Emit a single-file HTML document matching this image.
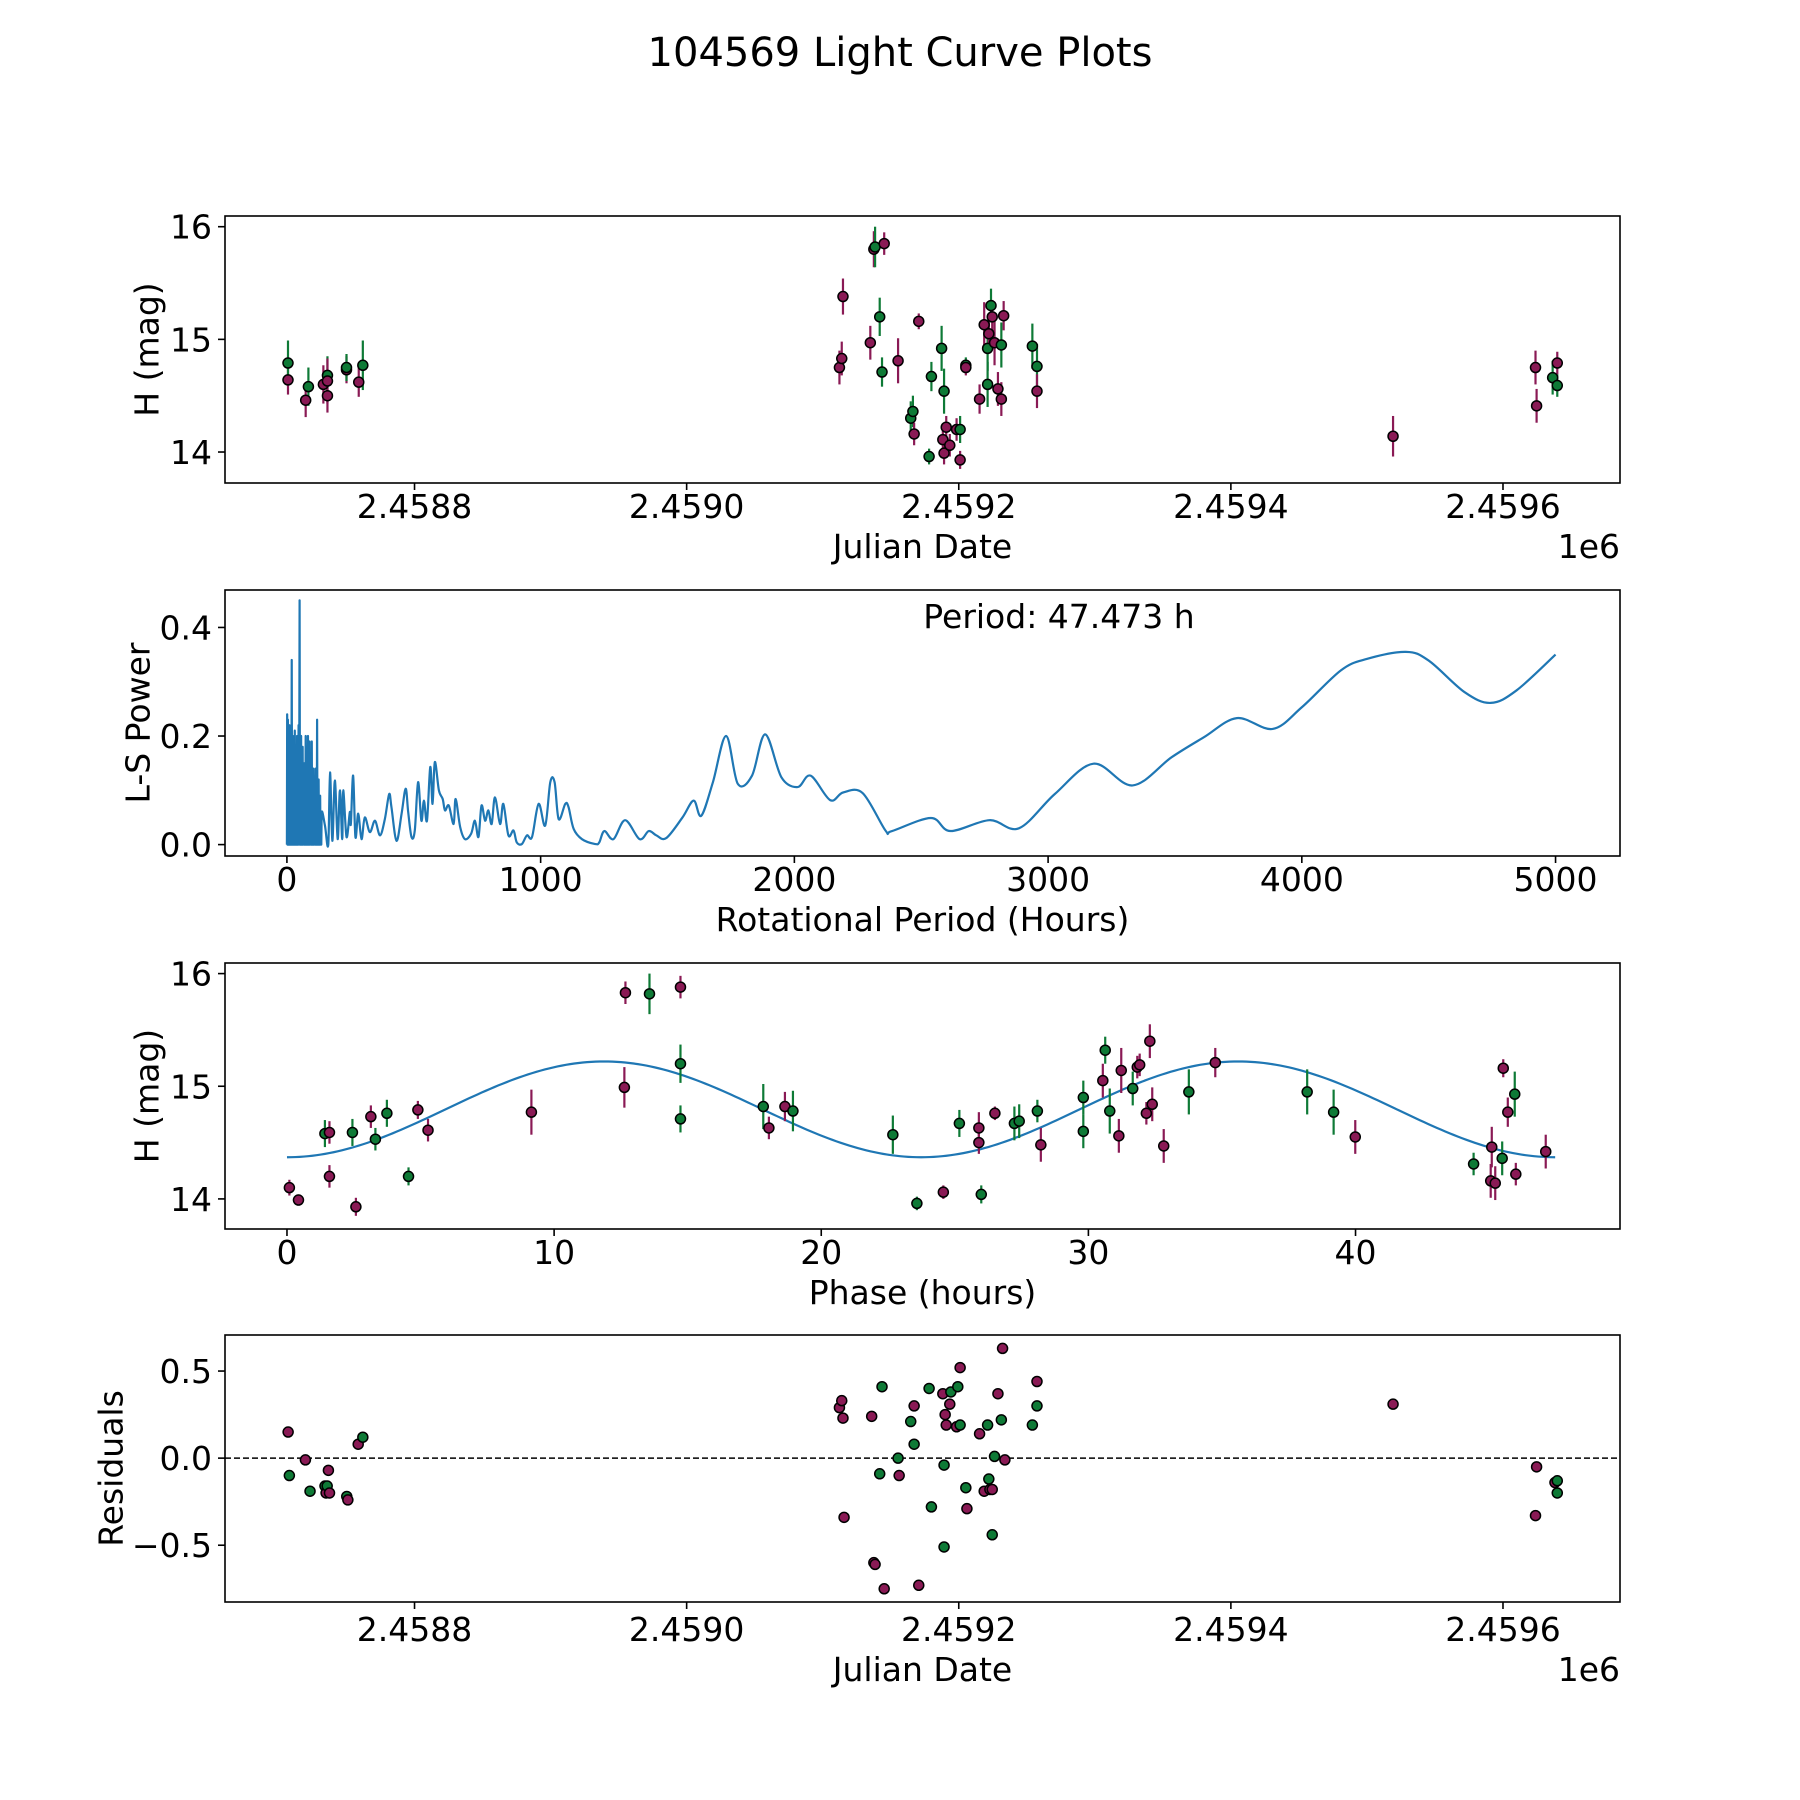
<!DOCTYPE html>
<html><head><meta charset="utf-8"><title>104569 Light Curve Plots</title>
<style>
html,body{margin:0;padding:0;background:#fff;}
svg{display:block;font-family:"DejaVu Sans","Liberation Sans",sans-serif;}
</style></head>
<body>
<svg id="fig" width="1800" height="1800" viewBox="0 0 1800 1800" xmlns="http://www.w3.org/2000/svg">
<rect width="1800" height="1800" fill="#fff"/>
<text x="900" y="66" font-size="40" text-anchor="middle">104569 Light Curve Plots</text>
</svg>
<script>
// ---------- Light curve data ----------
const lcJD = [2458707,2458707,2458720,2458722,2458733,2458736,2458736,2458736,2458750,2458750,2458759,2458762,
2459112.3,2459114,2459114.9,2459135,2459137.6,2459138.5,2459141.9,2459143.6,2459145.2,2459155.4,2459164.7,2459166.3,2459167.2,2459170.6,2459178.2,2459179.9,2459187.4,2459188.3,2459189.2,2459189.2,2459190.8,2459193.4,2459198.4,2459201,2459201,2459205.2,2459205.2,2459215.3,2459218.7,2459221.2,2459221.2,2459222.1,2459223.7,2459224.6,2459226.3,2459228.8,2459231.3,2459231.3,2459233,2459254.1,2459257.5,2459257.5,
2459519.2,2459623.9,2459624.7,2459636.5,2459639.9,2459639.9];
const lcMag = [14.64,14.79,14.46,14.58,14.6,14.68,14.63,14.50,14.73,14.75,14.62,14.77,
14.75,14.83,15.38,14.97,15.8,15.82,15.2,14.71,15.85,14.81,14.3,14.36,14.16,15.16,13.96,14.67,14.92,14.11,14.54,13.99,14.22,14.06,14.2,14.2,13.93,14.77,14.75,14.47,15.13,14.92,14.6,15.05,15.3,15.2,14.97,14.56,14.47,14.95,15.21,14.94,14.76,14.54,
14.14,14.75,14.41,14.66,14.79,14.59];
const lcErr = [0.13,0.2,0.15,0.17,0.17,0.17,0.2,0.15,0.12,0.12,0.13,0.22,
0.15,0.15,0.16,0.15,0.16,0.18,0.17,0.13,0.1,0.2,0.15,0.14,0.1,0.07,0.07,0.13,0.2,0.13,0.2,0.1,0.1,0.1,0.1,0.12,0.08,0.07,0.07,0.13,0.2,0.2,0.2,0.15,0.15,0.15,0.2,0.15,0.15,0.2,0.13,0.2,0.2,0.15,
0.18,0.15,0.15,0.15,0.1,0.1];
const lcBand = ['p','g','p','g','p','g','p','p','p','g','p','g',
'p','p','p','p','p','g','g','g','p','p','g','g','p','p','g','g','g','p','g','p','p','p','p','g','p','g','p','p','p','g','g','p','g','p','p','p','p','g','p','g','g','p',
'p','p','p','g','p','g'];

// ---------- Periodogram data ----------
const lsPeriod = [0,1,2.5,4,5.5,7,8.5,10,11.5,13,14.5,16,17.5,19,20.5,22,23.5,25,26.5,28,29.5,31,32.5,34,35.5,37,38.5,40,41.5,43,44.5,46,48,50,51.5,53,54.5,56,57.5,59,60.5,62,63.5,65,66.5,68,69.5,71,72.5,74,75.5,77,78.5,80,81.5,83,84.5,86,87.5,89,90.5,92,93.5,95,96.5,98,99.5,101,102.5,104,105.5,107,108.5,110,111.5,113,114.5,116,117.5,119,120.5,122,123.5,125,126.5,128,129.5,131,132.5,134,135.5,137,
150,163,170,179,189,200,209,218,222,235,248,252,261,270,281,294,307,327,347,367,386,403,412,432,452,468,478,491,504,517,530,540,552,565,574,583,599,614,623,638,657,665,683,702,726,741,755,767,781,794,807,820,840,853,873,893,906,926,946,966,992,1018,1038,1055,1071,1097,1110,1130,1163,1215,
1231,1251,1287,1333,1390,1426,1456,1495,1559,1603,1633,1679,1731,1777,1833,1885,1949,2013,2064,2141,2192,2269,2359,2385,2538,2615,2769,2885,3026,3179,3333,3487,3615,3744,3885,4000,4154,4256,4410,4500,4641,4744,4846,5000];
const lsPower = [0,0.24,0,0.23,0,0.21,0,0.22,0,0.2,0,0.15,0,0.34,0,0.2,0,0.1,0,0.2,0,0.21,0,0.15,0,0.12,0,0.2,0,0.1,0,0.22,0,0.45,0,0.15,0,0.2,0,0.09,0,0.18,0,0.05,0,0.15,0,0.11,0,0.2,0,0.06,0,0.15,0,0.2,0,0.09,0,0.19,0,0.05,0,0.13,0,0.19,0,0.07,0,0.14,0,0.11,0,0.05,0,0.14,0,0.09,0,0.23,0,0.1,0,0.12,0,0.07,0,0.09,0,0.04,0,0.06,
0.035,0,0.133,0.007,0.118,0.01,0.1,0.01,0.1,0.014,0.06,0.038,0.127,0.014,0.057,0.01,0.05,0.023,0.044,0.017,0.047,0.093,0.069,0.007,0.057,0.103,0.06,0.014,0.026,0.115,0.044,0.081,0.044,0.143,0.075,0.152,0.1,0.084,0.063,0.072,0.038,0.084,0.032,0.01,0.02,0.044,0.014,0.072,0.044,0.063,0.038,0.087,0.038,0.075,0.017,0.026,0.004,0.001,0.017,0.014,0.075,0.035,0.115,0.115,0.047,0.075,0.069,0.029,0.01,0.001,
0.004,0.025,0.01,0.045,0.01,0.025,0.017,0.012,0.05,0.081,0.053,0.115,0.2,0.112,0.127,0.203,0.124,0.106,0.127,0.082,0.096,0.095,0.026,0.025,0.049,0.025,0.045,0.03,0.093,0.149,0.109,0.161,0.198,0.233,0.213,0.253,0.321,0.342,0.355,0.339,0.281,0.261,0.284,0.35];
const lsDenseEnd = [137];

// ---------- Phased data ----------
const phPhase = [0.09,0.43,1.42,1.59,1.59,2.45,2.58,3.14,3.31,3.74,4.55,4.9,5.28,9.15,12.63,12.67,13.57,14.73,14.73,14.73,17.83,18.04,18.64,18.94,22.68,23.58,24.57,25.17,25.9,25.9,25.99,26.5,27.23,27.41,28.09,28.22,29.81,29.81,30.54,30.63,30.8,31.14,31.23,31.66,31.83,31.92,32.17,32.3,32.39,32.82,33.76,34.75,38.19,39.18,39.99,44.42,45.1,45.06,45.23,45.49,45.53,45.7,45.96,46.0,47.12];
const phMag = [14.1,13.99,14.58,14.59,14.2,14.59,13.93,14.73,14.53,14.76,14.2,14.79,14.61,14.77,14.99,15.83,15.82,15.2,14.71,15.88,14.82,14.63,14.82,14.78,14.57,13.96,14.06,14.67,14.63,14.5,14.04,14.76,14.67,14.69,14.78,14.48,14.9,14.6,15.05,15.32,14.78,14.56,15.14,14.98,15.17,15.19,14.76,15.4,14.84,14.47,14.95,15.21,14.95,14.77,14.55,14.31,14.46,14.16,14.14,14.36,15.16,14.77,14.93,14.22,14.42];
const phErr = [0.07,0.05,0.12,0.1,0.1,0.12,0.08,0.1,0.1,0.12,0.08,0.08,0.1,0.2,0.18,0.1,0.18,0.17,0.12,0.1,0.2,0.1,0.13,0.18,0.17,0.06,0.06,0.12,0.14,0.1,0.08,0.06,0.15,0.15,0.1,0.15,0.15,0.15,0.15,0.12,0.2,0.15,0.2,0.15,0.1,0.1,0.1,0.15,0.15,0.15,0.2,0.13,0.2,0.2,0.15,0.1,0.18,0.15,0.15,0.15,0.08,0.13,0.2,0.1,0.15];
const phBand = ['p','p','g','p','p','g','p','p','g','g','g','p','p','p','p','p','g','g','g','p','g','p','p','g','g','g','p','g','p','p','g','p','g','g','g','p','g','g','p','g','g','p','p','g','p','p','p','p','p','p','g','p','g','g','p','g','p','p','p','g','p','p','g','p','p'];
const modelMean = [14.795];
const modelAmp = [0.425];
const modelHalfPeriod = [23.74];
const modelSpan = [0, 47.473];

// ---------- Residuals ----------
const resJD = [2458707.1,2458708,2458719.8,2458723.2,2458734.2,2458735,2458735.8,2458736.7,2458737.5,2458750.2,2458751,2458758.6,2458762,
2459112.3,2459114,2459114.9,2459115.7,2459136,2459137.6,2459138.5,2459141.9,2459143.6,2459145.2,2459155.4,2459156.2,2459164.7,2459167.2,2459167.2,2459170.6,2459178.2,2459179.9,2459188.3,2459189.2,2459189.2,2459190,2459190.8,2459193.4,2459194.2,2459198.4,2459199.3,2459201,2459201,2459205.2,2459206,2459215.3,2459218.7,2459221.2,2459222.1,2459222.9,2459224.6,2459224.6,2459226.3,2459228.8,2459231.3,2459232.2,2459233.9,2459254.1,2459257.5,2459257.5,
2459519.2,2459623.9,2459624.7,2459638.2,2459639.9,2459639.9];
const resVal = [0.15,-0.1,-0.01,-0.19,-0.16,-0.2,-0.16,-0.07,-0.2,-0.22,-0.24,0.08,0.12,
0.29,0.33,0.23,-0.34,0.24,-0.6,-0.61,-0.09,0.41,-0.75,0.0,-0.1,0.21,0.08,0.3,-0.73,0.4,-0.28,0.37,-0.04,-0.51,0.25,0.19,0.31,0.38,0.18,0.41,0.52,0.19,-0.17,-0.29,0.14,-0.19,0.19,-0.12,-0.18,-0.18,-0.44,0.01,0.37,0.22,0.63,-0.01,0.19,0.3,0.44,
0.31,-0.33,-0.05,-0.14,-0.13,-0.2];
const resBand = ['p','g','p','g','g','p','g','p','p','g','p','p','g',
'p','p','p','p','p','p','p','g','g','p','g','p','g','g','p','p','g','g','p','g','g','p','p','p','g','p','g','p','g','g','p','p','p','g','g','p','p','g','g','p','g','p','p','g','g','p',
'p','p','p','p','g','g'];

const jdTicks = [2458800,2459000,2459200,2459400,2459600];
const jdTickLabels = ['2.4588','2.4590','2.4592','2.4594','2.4596'];
const magTicks = [14,15,16];
const lsXTicks = [0,1000,2000,3000,4000,5000];
const lsYTicks = [0,0.2,0.4];
const lsYTickLabels = ['0.0','0.2','0.4'];
const phXTicks = [0,10,20,30,40];
const resTicks = [-0.5,0,0.5];
const resTickLabels = ['\u22120.5','0.0','0.5'];

const NS = 'http://www.w3.org/2000/svg';
const svg = document.getElementById('fig');
const COL = {p:'#8a1a55', g:'#0e7a36'};
const FS = 33;

function mk(tag, attrs, parent) {
  const e = document.createElementNS(NS, tag);
  for (const k in attrs) e.setAttribute(k, attrs[k]);
  (parent || svg).appendChild(e);
  return e;
}
function scale(d0, d1, r0, r1) { return v => r0 + (v - d0) / (d1 - d0) * (r1 - r0); }

function makeAxes(name, box, xd, yd) {
  const g = mk('g', {});
  
  
  const clipId = name + '-clip';
  const cp = mk('clipPath', {id: clipId}, g);
  mk('rect', {x: box.l, y: box.t, width: box.r - box.l, height: box.b - box.t}, cp);
  const plot = mk('g', {'clip-path': 'url(#' + clipId + ')'}, g);
  
  
  return {g, plot, box, x: scale(xd[0], xd[1], box.l, box.r), y: scale(yd[0], yd[1], box.b, box.t)};
}
function frame(ax) {
  const b = ax.box;
  const f = mk('rect', {x: b.l, y: b.t, width: b.r - b.l, height: b.b - b.t, fill: 'none', stroke: '#000', 'stroke-width': 1.6}, ax.g);
  
  
}
function xTicks(ax, ticks, labels, labelY) {
  ticks.forEach((t, i) => {
    const X = ax.x(t);
    const tk = mk('line', {x1: X, x2: X, y1: ax.box.b, y2: ax.box.b + 7, stroke: '#000', 'stroke-width': 1.6}, ax.g);
    
    
    const tx = mk('text', {x: X, y: labelY, 'font-size': FS, 'text-anchor': 'middle'}, ax.g);
    tx.textContent = labels[i];
    
    
  });
}
function yTicks(ax, ticks, labels) {
  ticks.forEach((t, i) => {
    const Y = ax.y(t);
    const tk = mk('line', {x1: ax.box.l - 7, x2: ax.box.l, y1: Y, y2: Y, stroke: '#000', 'stroke-width': 1.6}, ax.g);
    
    
    const tx = mk('text', {x: ax.box.l - 13, y: Y + 12, 'font-size': FS, 'text-anchor': 'end'}, ax.g);
    tx.textContent = labels[i];
    
    
  });
}
function xLabel(ax, text, y) {
  const t = mk('text', {x: (ax.box.l + ax.box.r) / 2, y: y, 'font-size': FS, 'text-anchor': 'middle'}, ax.g);
  t.textContent = text;
  
  
}
function yLabel(ax, text, x) {
  const cy = (ax.box.t + ax.box.b) / 2;
  const t = mk('text', {x: x, y: cy, 'font-size': FS, 'text-anchor': 'middle', transform: 'rotate(-90 ' + x + ' ' + cy + ')', 'dominant-baseline': 'central'}, ax.g);
  t.textContent = text;
  
  
}
function offsetLabel(ax, y) {
  const t = mk('text', {x: ax.box.r, y: y, 'font-size': FS, 'text-anchor': 'end'}, ax.g);
  t.textContent = '1e6';
  
  
}
function errPoints(ax, xs, ys, es, bands) {
  xs.forEach((v, i) => {
    if (!es) return;
    const X = ax.x(v);
    const eb = mk('line', {x1: X, x2: X, y1: ax.y(ys[i] - es[i]), y2: ax.y(ys[i] + es[i]), stroke: COL[bands[i]], 'stroke-width': 2.2}, ax.plot);
    
    
  });
  xs.forEach((v, i) => {
    const c = mk('circle', {cx: ax.x(v), cy: ax.y(ys[i]), r: 5, fill: COL[bands[i]], stroke: '#000', 'stroke-width': 1.5}, ax.plot);
    
    
  });
}

// Panel 1: light curve
const ax1 = makeAxes('light-curve-axes', {l: 225, r: 1620, t: 216, b: 483}, [2458660.7, 2459686], [13.725, 16.095]);
errPoints(ax1, lcJD, lcMag, lcErr, lcBand);
frame(ax1);
xTicks(ax1, jdTicks, jdTickLabels, 518);
yTicks(ax1, magTicks, magTicks.map(String));
xLabel(ax1, 'Julian Date', 558);
offsetLabel(ax1, 558);
yLabel(ax1, 'H (mag)', 147);

// Panel 2: periodogram
const ax2 = makeAxes('periodogram-axes', {l: 225, r: 1620, t: 590, b: 856}, [-244, 5254], [-0.021, 0.469]);
const pts = lsPeriod.map((p, i) => [ax2.x(p), ax2.y(lsPower[i])]);
let d = 'M' + pts[0][0].toFixed(2) + ',' + pts[0][1].toFixed(2);
for (let i = 1; i < pts.length; i++) {
  if (lsPeriod[i] <= lsDenseEnd[0] + 1) {
    d += 'L' + pts[i][0].toFixed(2) + ',' + pts[i][1].toFixed(2);
  } else {
    const p0 = pts[Math.max(i - 2, 0)], p1 = pts[i - 1], p2 = pts[i], p3 = pts[Math.min(i + 1, pts.length - 1)];
    const c1x = p1[0] + (p2[0] - p0[0]) / 6, c1y = p1[1] + (p2[1] - p0[1]) / 6;
    const c2x = p2[0] - (p3[0] - p1[0]) / 6, c2y = p2[1] - (p3[1] - p1[1]) / 6;
    d += 'C' + c1x.toFixed(2) + ',' + c1y.toFixed(2) + ' ' + c2x.toFixed(2) + ',' + c2y.toFixed(2) + ' ' + p2[0].toFixed(2) + ',' + p2[1].toFixed(2);
  }
}
const lsPath = mk('path', {d: d, fill: 'none', stroke: '#1f77b4', 'stroke-width': 2.2, 'stroke-linejoin': 'round'}, ax2.plot);


frame(ax2);
xTicks(ax2, lsXTicks, lsXTicks.map(String), 891);
yTicks(ax2, lsYTicks, lsYTickLabels);
xLabel(ax2, 'Rotational Period (Hours)', 931);
yLabel(ax2, 'L-S Power', 138);
const per = mk('text', {x: 1059, y: 628, 'font-size': FS, 'text-anchor': 'middle'}, ax2.g);
per.textContent = 'Period: 47.473 h';



// Panel 3: phased curve
const ax3 = makeAxes('phased-curve-axes', {l: 225, r: 1620, t: 963, b: 1229}, [-2.32, 49.9], [13.733, 16.094]);
const modelPts = [];
for (let k = 0; k <= 300; k++) {
  const ph = modelSpan[0] + (modelSpan[1] - modelSpan[0]) * k / 300;
  const h = modelMean[0] - modelAmp[0] * Math.cos(2 * Math.PI * ph / modelHalfPeriod[0]);
  modelPts.push((k ? 'L' : 'M') + ax3.x(ph).toFixed(2) + ',' + ax3.y(h).toFixed(2));
}
const mp = mk('path', {d: modelPts.join(''), fill: 'none', stroke: '#1f77b4', 'stroke-width': 2.2}, ax3.plot);


errPoints(ax3, phPhase, phMag, phErr, phBand);
frame(ax3);
xTicks(ax3, phXTicks, phXTicks.map(String), 1264);
yTicks(ax3, magTicks, magTicks.map(String));
xLabel(ax3, 'Phase (hours)', 1304);
yLabel(ax3, 'H (mag)', 147);

// Panel 4: residuals
const ax4 = makeAxes('residuals-axes', {l: 225, r: 1620, t: 1335, b: 1602}, [2458660.7, 2459686], [-0.826, 0.707]);
const zl = mk('line', {x1: 225, x2: 1620, y1: ax4.y(0), y2: ax4.y(0), stroke: '#000', 'stroke-width': 1.6, 'stroke-dasharray': '6,3'}, ax4.plot);


errPoints(ax4, resJD, resVal, null, resBand);
frame(ax4);
xTicks(ax4, jdTicks, jdTickLabels, 1641);
yTicks(ax4, resTicks, resTickLabels);
xLabel(ax4, 'Julian Date', 1681);
offsetLabel(ax4, 1681);
yLabel(ax4, 'Residuals', 111);
</script>
</body></html>
